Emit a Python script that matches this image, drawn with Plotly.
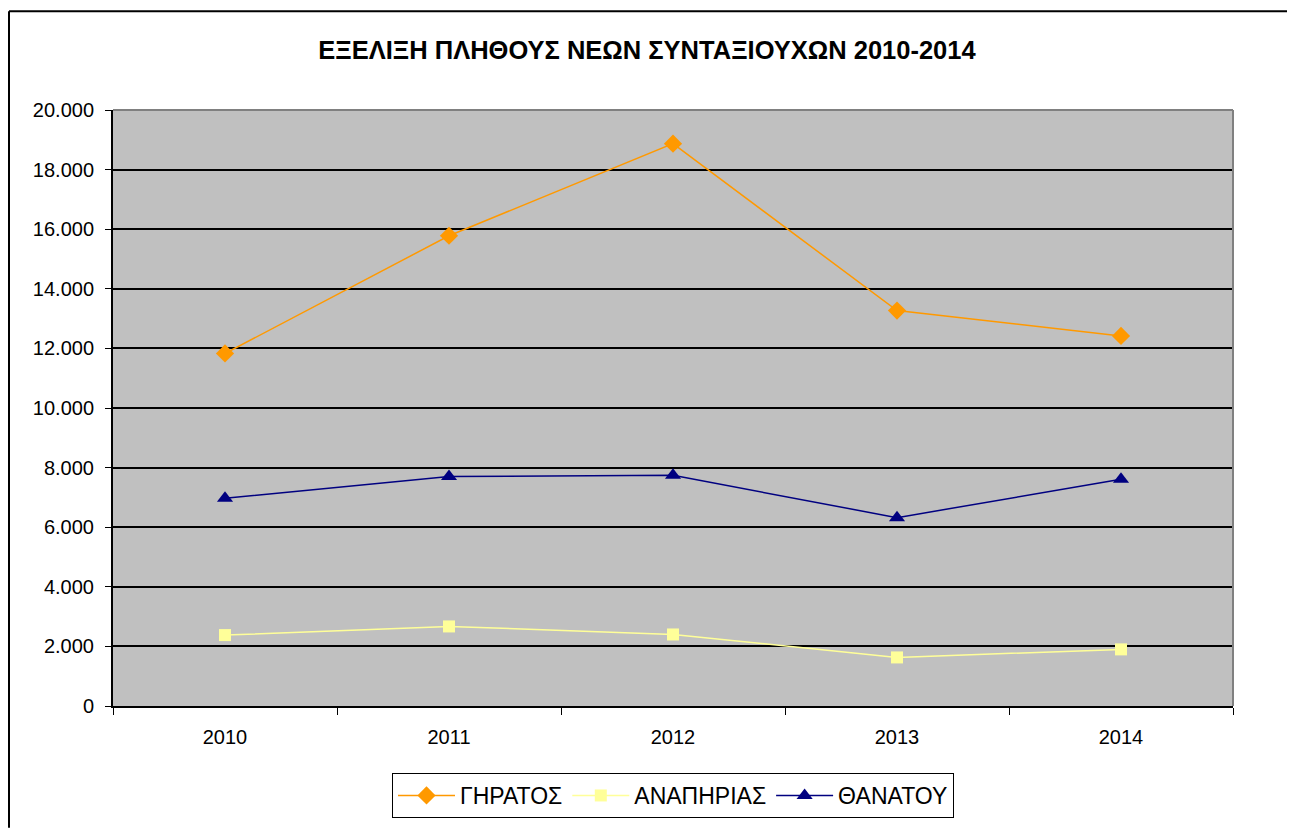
import plotly.graph_objects as go

years = ["2010", "2011", "2012", "2013", "2014"]
giratos = [11830, 15780, 18870, 13270, 12420]
anapirias = [2380, 2670, 2400, 1630, 1900]
thanatou = [6970, 7700, 7740, 6320, 7610]

title_text = "ΕΞΕΛΙΞΗ ΠΛΗΘΟΥΣ ΝΕΩΝ ΣΥΝΤΑΞΙΟΥΧΩΝ 2010-2014"
font_family = "Liberation Sans, Arial, sans-serif"

W, H = 1287, 821
L, R, T, B = 105, 62, 102, 122
PW, PH = W - L - R, H - T - B

fig = go.Figure()
fig.add_trace(go.Scatter(
    x=years, y=giratos, name="ΓΗΡΑΤΟΣ", mode="lines+markers",
    line=dict(color="#FF9900", width=1.5),
    marker=dict(symbol="diamond", size=14, color="#FF9900"),
))
fig.add_trace(go.Scatter(
    x=years, y=anapirias, name="ΑΝΑΠΗΡΙΑΣ", mode="lines+markers",
    line=dict(color="#FFFF99", width=1.5),
    marker=dict(symbol="square", size=12, color="#FFFF99"),
))
fig.add_trace(go.Scatter(
    x=years, y=thanatou, name="ΘΑΝΑΤΟΥ", mode="lines+markers",
    line=dict(color="#000080", width=1.5),
    marker=dict(symbol="triangle-up", size=14, color="#000080"),
))

fig.update_layout(
    width=W, height=H,
    margin=dict(l=L, r=R, t=T, b=B),
    paper_bgcolor="white",
    plot_bgcolor="#C0C0C0",
    separators=",.",
    font=dict(family=font_family, size=20, color="black"),
    title=dict(text="<b>" + title_text + "</b>", x=639/W, xref="container", xanchor="center",
               y=1 - 42/H, yref="container", yanchor="middle",
               font=dict(family=font_family, size=25.5, color="black")),
    showlegend=True,
    legend=dict(orientation="h", x=0.5, xanchor="center", y=-66/PH, yanchor="top",
                bordercolor="black", borderwidth=1, bgcolor="white",
                font=dict(family=font_family, size=23, color="black"),
                itemwidth=57, tracegroupgap=0),
    shapes=[
        dict(type="line", xref="x domain", yref="y domain", x0=0, x1=1, y0=1, y1=1,
             line=dict(color="#808080", width=2), layer="above"),
        dict(type="line", xref="x domain", yref="y domain", x0=1, x1=1, y0=0, y1=1,
             line=dict(color="#808080", width=2), layer="above"),
        dict(type="line", xref="paper", yref="paper", x0=-L/PW + 1/PW, x1=(W - L)/PW,
             y0=1 + 99/PH, y1=1 + 99/PH, line=dict(color="black", width=2)),
        dict(type="line", xref="paper", yref="paper", x0=-L/PW + 1/PW, x1=-L/PW + 1/PW,
             y0=1 + 99/PH, y1=-B/PH, line=dict(color="black", width=2)),
    ],
)

fig.update_xaxes(
    type="category", range=[-0.5, 4.5], tickson="boundaries",
    ticks="outside", ticklen=7, tickcolor="black", tickwidth=1,
    showline=True, linecolor="black", linewidth=2,
    showgrid=False, zeroline=False, ticklabelstandoff=12,
    tickfont=dict(family=font_family, size=20, color="black"),
)
fig.update_yaxes(
    range=[0, 20000], dtick=2000, tickformat=",d",
    ticks="outside", ticklen=6, tickcolor="black", tickwidth=1,
    showline=True, linecolor="black", linewidth=2,
    showgrid=True, gridcolor="black", gridwidth=1.5,
    zeroline=False, ticklabelstandoff=7,
    tickfont=dict(family=font_family, size=20, color="black"),
)

fig.write_html("out.html")
